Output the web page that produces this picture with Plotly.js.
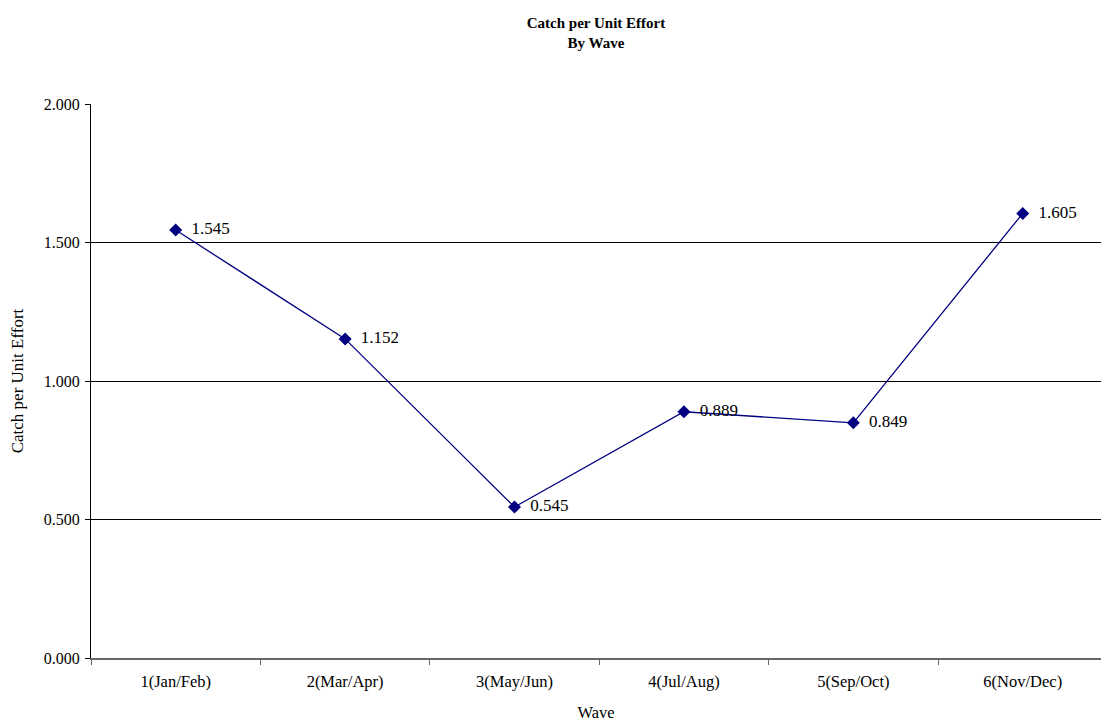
<!DOCTYPE html>
<html><head><meta charset="utf-8">
<script src="https://cdn.plot.ly/plotly-3.0.1.min.js"></script>
<style>body{margin:0;padding:0;background:#fff}#chart{width:1101px;height:723px}</style>
</head><body><div id="chart"></div>
<script>
const waves = ["1(Jan/Feb)","2(Mar/Apr)","3(May/Jun)","4(Jul/Aug)","5(Sep/Oct)","6(Nov/Dec)"];
const cpue = [1.545, 1.152, 0.545, 0.889, 0.849, 1.605];
const yTicks = [0, 0.5, 1.0, 1.5, 2.0];

const font = {family: "Liberation Serif, Times New Roman, serif", color: "#000"};
const trace = {
  x: waves, y: cpue, type: "scatter", mode: "lines+markers+text",
  line: {color: "#000080", width: 1.3},
  marker: {symbol: "diamond", size: 10, color: "#000080"},
  text: cpue.map(v => "\u00a0\u00a0" + v.toFixed(3)), textposition: "middle right",
  textfont: Object.assign({}, font, {size: 17}),
  cliponaxis: false, hoverinfo: "none"
};
const layout = {
  width: 1101, height: 723,
  margin: {l: 91, r: 0, t: 104, b: 65},
  paper_bgcolor: "#fff", plot_bgcolor: "#fff",
  font: Object.assign({}, font, {size: 16}),
  showlegend: false,
  title: {text: "<b>Catch per Unit Effort<br>By Wave</b>", font: Object.assign({}, font, {size: 15}),
          x: 0.5, xref: "paper", xanchor: "center", y: 1 - 28/723, yref: "container", yanchor: "middle"},
  xaxis: {
    type: "category", tickson: "boundaries", ticks: "outside", ticklen: 5, tickcolor: "#666",
    showline: true, linecolor: "#666", linewidth: 1.5, showgrid: false, zeroline: false,
    tickfont: Object.assign({}, font, {size: 16.5}), ticklabelstandoff: 8,
    title: {text: "Wave", font: Object.assign({}, font, {size: 16.5}), standoff: 16},
    range: [-0.5, 5.462]
  },
  yaxis: {
    range: [0, 2.0], tickvals: yTicks, tickformat: ".3f", ticks: "outside", ticklen: 5, tickcolor: "#000",
    showline: true, linecolor: "#000", linewidth: 1, showgrid: true, gridcolor: "#000", gridwidth: 1,
    zeroline: false, tickfont: Object.assign({}, font, {size: 16}), ticklabelstandoff: 2,
    title: {text: "Catch per Unit Effort", font: Object.assign({}, font, {size: 17}), standoff: 15}
  }
};
Plotly.newPlot("chart", [trace], layout, {displayModeBar: false, staticPlot: true});
</script></body></html>
